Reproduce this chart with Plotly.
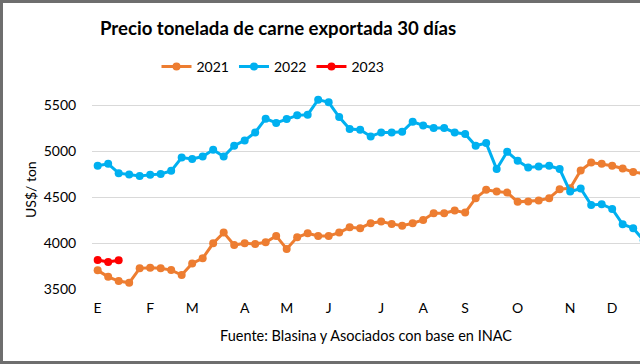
import plotly.graph_objects as go

# Week index (0 = first week of January)
weeks = list(range(53))

month_labels = ["E", "F", "M", "A", "M", "J", "J", "A", "S", "O", "N", "D"]
month_weeks = [0, 5, 9, 14, 18, 22, 27, 31, 35, 40, 45, 49]

y2021 = [3703, 3633, 3586, 3568, 3725, 3731, 3725, 3706, 3652, 3779,
         3834, 3998, 4114, 3979, 3998, 3990, 4009, 4078, 3936, 4063,
         4107, 4078, 4078, 4114, 4172, 4162, 4216, 4234, 4209, 4190,
         4216, 4252, 4325, 4325, 4354, 4332, 4489, 4580, 4561, 4550,
         4449, 4452, 4463, 4489, 4587, 4598, 4790, 4878, 4864, 4842,
         4812, 4773, 4760]

y2022 = [4842, 4864, 4762, 4747, 4732, 4743, 4753, 4787, 4932, 4915,
         4943, 5016, 4943, 5060, 5118, 5205, 5355, 5308, 5352, 5391,
         5398, 5562, 5533, 5373, 5242, 5235, 5162, 5205, 5205, 5213,
         5322, 5282, 5253, 5253, 5205, 5188, 5060, 5089, 4806, 4995,
         4896, 4823, 4834, 4842, 4806, 4561, 4594, 4416, 4424, 4372,
         4205, 4162, 4030]

y2023 = [3816, 3794, 3812]

series = [
    ("2021", y2021, "#ED7D31"),
    ("2022", y2022, "#00B0F0"),
    ("2023", y2023, "#FF0000"),
]

fig = go.Figure()
for name, vals, col in series:
    fig.add_trace(go.Scatter(
        x=weeks[:len(vals)], y=vals, name=name, mode="lines+markers",
        line=dict(color=col, width=3),
        marker=dict(color=col, size=8),
    ))

W, H = 640, 364
ml, mr, mt, mb = 92, 0, 87, 75
pw, ph = W - ml - mr, H - mt - mb

font_family = "Lato, 'Open Sans', sans-serif"

fig.update_layout(
    width=W, height=H,
    margin=dict(l=ml, r=mr, t=mt, b=mb),
    paper_bgcolor="white", plot_bgcolor="white",
    font=dict(family=font_family, color="#404040", size=13),
    title=dict(text="<b>Precio tonelada de carne exportada 30 días</b>",
               x=100 / W, xref="container", xanchor="left",
               y=1 - 28 / H, yref="container", yanchor="middle",
               font=dict(size=18.6, color="#000000", family=font_family)),
    legend=dict(orientation="h", x=273 / W, xref="container", xanchor="center",
                y=1 - 67 / H, yref="container", yanchor="middle",
                font=dict(size=14, color="#000000"),
                itemwidth=30, bgcolor="rgba(0,0,0,0)"),
    showlegend=True,
)

fig.update_xaxes(
    range=[-0.54, 51.65], tickmode="array", tickvals=month_weeks, ticktext=month_labels,
    showgrid=False, zeroline=False, showline=False,
    ticks="outside", ticklen=6, tickcolor="rgba(0,0,0,0)",
    tickfont=dict(size=14, color="#000000"),
)
fig.update_yaxes(
    range=[3500, 5700], tickvals=[3500, 4000, 4500, 5000, 5500],
    showgrid=True, gridcolor="#D9D9D9", gridwidth=1.3, zeroline=False, showline=False,
    ticks="outside", ticklen=12, tickcolor="rgba(0,0,0,0)",
    tickfont=dict(size=14, color="#000000"),
)

fig.add_annotation(text="US$/ ton", textangle=-90,
                   x=(30 - ml) / pw, xref="paper", xanchor="center",
                   y=(H - mb - 190) / ph, yref="paper", yanchor="middle",
                   showarrow=False, font=dict(size=14, color="#000000"))

fig.add_annotation(text="Fuente: Blasina y Asociados con base en INAC",
                   x=(218 - ml) / pw, xref="paper", xanchor="left",
                   y=(H - mb - 335) / ph, yref="paper", yanchor="middle",
                   showarrow=False, font=dict(size=14.5, color="#000000"))

# Outer frame of the chart (left, top, bottom edges; right side is cut off)
xl = (1.5 - ml) / pw
xr = (700 - ml) / pw
yb = (H - mb - 362.5) / ph
yt = (H - mb - 1.5) / ph
fig.add_shape(type="path", xref="paper", yref="paper",
              path=f"M {xr} {yt} L {xl} {yt} L {xl} {yb} L {xr} {yb}",
              line=dict(color="#6E6E6E", width=3), layer="above")

fig.write_html("out.html", config={"displayModeBar": False},
               post_script="document.body.style.margin='0';document.body.style.overflow='hidden';")
